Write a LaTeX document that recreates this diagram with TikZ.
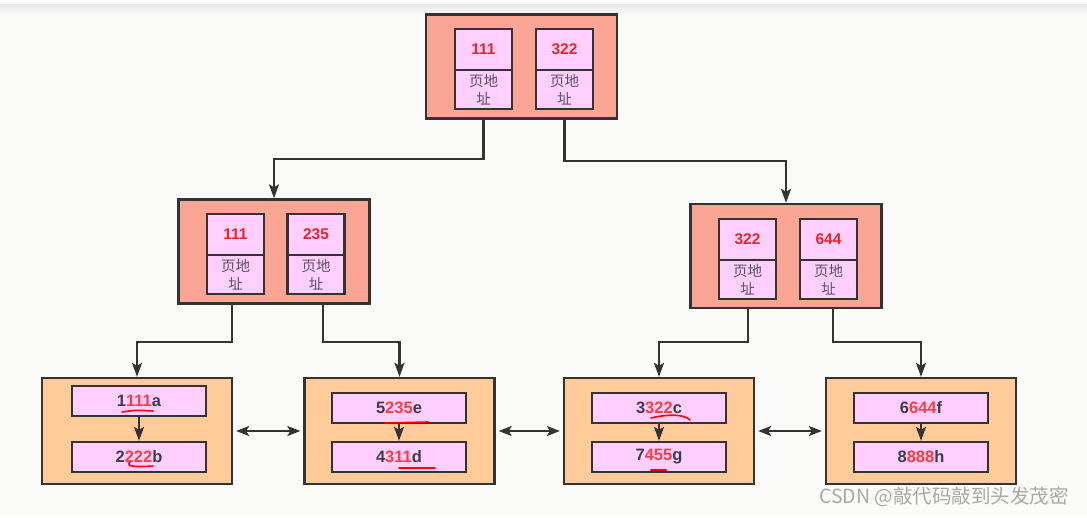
\documentclass[tikz,border=0pt]{standalone}
\usepackage{fontspec}
\setmainfont{Liberation Sans}
\newfontfamily\cjk{Noto Sans CJK SC}
\usetikzlibrary{arrows.meta,positioning,calc}

\definecolor{linedark}{HTML}{333333}
\definecolor{pagefill}{HTML}{FBA595}
\definecolor{leaffill}{HTML}{FFCC99}
\definecolor{cellfill}{HTML}{FFCFFF}
\definecolor{keyred}{HTML}{E8262A}
\definecolor{rowred}{HTML}{F5403F}
\definecolor{rowgray}{HTML}{3E3C4C}
\definecolor{addrgray}{HTML}{5A5262}
\definecolor{wmgray}{HTML}{A8A8A8}
\definecolor{bgcolor}{HTML}{FBFCFA}

\newcommand{\redpart}[1]{\textcolor{rowred}{#1}}

\tikzset{
    every picture/.style={line width=2.3pt},
    pagebox/.style={draw=linedark, fill=pagefill, minimum width=191, minimum height=104},
    keycell/.style={draw=linedark, fill=cellfill, outer sep=0pt, minimum width=57, minimum height=41,
        text=keyred, font=\bfseries\fontsize{15.5}{18}\selectfont},
    addrcell/.style={draw=linedark, fill=cellfill, outer sep=0pt, minimum width=57, minimum height=39,
        inner sep=0pt, align=center, text=addrgray, font=\cjk\fontsize{14.5}{18}\selectfont},
    leafbox/.style={draw=linedark, fill=leaffill, minimum width=190, minimum height=106},
    rowbox/.style={draw=linedark, fill=cellfill, minimum width=134, minimum height=30,
        text=rowgray, font=\bfseries\fontsize{16.5}{18}\selectfont},
    link/.style={draw=linedark, -{Stealth[length=14pt, width=10pt, inset=3pt]}},
    twolink/.style={draw=linedark, {Stealth[length=13pt, width=10pt, inset=3pt]}-{Stealth[length=13pt, width=10pt, inset=3pt]},
        shorten <=3pt, shorten >=3pt},
    scrawl/.style={draw=red, line width=1.6pt, line cap=round}
}

\begin{document}
\begin{tikzpicture}[x=1pt, y=-1pt]

    % --- background ---
    \useasboundingbox (0,0) rectangle (1087,517);
    \fill[bgcolor] (0,0) rectangle (1087,517);
    \fill[white] (0,0) rectangle (1087,4);
    \shade[top color=black!9, bottom color=bgcolor] (0,4) rectangle (1087,16);

    % --- root page ---
    \node[pagebox] (root) at (521.5,66.5) {};
    \node[keycell] (rootA) at (483.5,49.5) {111};
    \node[addrcell, below=0pt of rootA] (rootAa) {页地\\址};
    \node[keycell] (rootB) at (564.5,49.5) {322};
    \node[addrcell, below=0pt of rootB] (rootBa) {页地\\址};

    % --- middle pages ---
    \node[pagebox] (midL) at (274,251.5) {};
    \node[keycell] (midLA) at (235.5,234.5) {111};
    \node[addrcell, below=0pt of midLA] (midLAa) {页地\\址};
    \node[keycell] (midLB) at (316,234.5) {235};
    \node[addrcell, below=0pt of midLB] (midLBa) {页地\\址};

    \node[pagebox] (midR) at (786,256) {};
    \node[keycell] (midRA) at (747.5,239.5) {322};
    \node[addrcell, below=0pt of midRA] (midRAa) {页地\\址};
    \node[keycell] (midRB) at (828.5,239.5) {644};
    \node[addrcell, below=0pt of midRB] (midRBa) {页地\\址};

    % --- leaf pages ---
    \foreach \n/\x/\rx/\ty/\ta/\tb in {
        A/137/139/401/{1\redpart{111}a}/{2\redpart{222}b},
        B/399.5/399/408/{5\redpart{235}e}/{4\redpart{311}d},
        C/659/659/408/{3\redpart{322}c}/{7\redpart{455}g},
        D/921/921/408/{6\redpart{644}f}/{8\redpart{888}h}} {
        \node[leafbox] (leaf\n) at (\x,431) {};
        \node[rowbox] (row\n1) at (\rx,\ty) {\ta};
        \node[rowbox] (row\n2) at (\rx,457) {\tb};
        \draw[link] (row\n1) -- (row\n2);
    }

    % --- tree connectors ---
    \draw[link] (rootA.center |- root.south) -- ++(0,39) -| (midL.north);
    \draw[link] (rootB.center |- root.south) -- ++(0,41) -| (midR.north);
    \draw[link] ($(midL.south)+(-42,0)$) -- ++(0,37) -| (leafA.north);
    \draw[link] ($(midL.south)+(49,0)$) -- ++(0,37) -| (leafB.north);
    \draw[link] ($(midR.south)+(-38,0)$) -- ++(0,33) -| (leafC.north);
    \draw[link] ($(midR.south)+(47,0)$) -- ++(0,33) -| (leafD.north);

    % leaf chain
    \draw[twolink] (leafA) -- (leafB);
    \draw[twolink] (leafB) -- (leafC);
    \draw[twolink] (leafC) -- (leafD);

    % --- red marks ---
    \draw[scrawl] (122,412) .. controls (136,410) .. (153,411);
    \draw[scrawl] (130,462) .. controls (125,467) and (137,467) .. (153,466);
    \draw[scrawl] (385,423) -- (428,422);
    \draw[scrawl] (399,468) -- (435,468);
    \draw[scrawl] (651,418) .. controls (668,414) and (684,414) .. (690,420);
    \draw[scrawl, line width=2.4pt] (651,470) -- (666,470);

    % watermark
    \node[anchor=east, text=wmgray, font=\cjk\fontsize{19.5}{22}\selectfont] (mark) at (1073,497) {CSDN @敲代码敲到头发茂密};

\end{tikzpicture}
\end{document}
